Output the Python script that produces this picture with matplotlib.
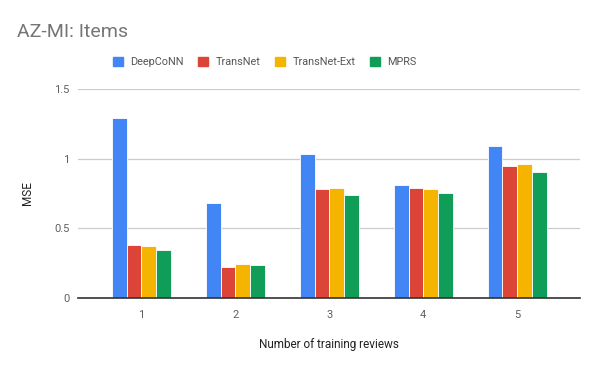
import matplotlib.pyplot as plt
import numpy as np
from matplotlib.patches import Patch
from matplotlib.ticker import FuncFormatter

plt.rcParams['font.family'] = ['Roboto', 'DejaVu Sans']

reviews = ['1', '2', '3', '4', '5']
models = ['DeepCoNN', 'TransNet', 'TransNet-Ext', 'MPRS']
deepconn = [1.29, 0.68, 1.03, 0.81, 1.09]
transnet = [0.38, 0.22, 0.78, 0.79, 0.95]
transnet_ext = [0.37, 0.245, 0.79, 0.785, 0.965]
mprs = [0.345, 0.237, 0.74, 0.75, 0.905]
colors = ['#4285f4', '#db4437', '#f4b400', '#0f9d58']

fig = plt.figure(figsize=(6, 3.71), dpi=100)
ax = fig.add_axes([0.13, 0.197, 0.837, 0.563])

x = np.arange(len(reviews))
w = 0.157
for i, (vals, c) in enumerate(zip([deepconn, transnet, transnet_ext, mprs], colors)):
    ax.bar(x + (i - 1.5) * w, vals, w, color=c, edgecolor='white', linewidth=0.6, zorder=3)

ax.set_xlim(-0.675, 4.67)
ax.set_ylim(0, 1.5)
ax.set_yticks([0, 0.5, 1, 1.5])
ax.yaxis.set_major_formatter(FuncFormatter(lambda v, p: f'{v:g}'))
ax.set_xticks(x)
ax.set_xticklabels(reviews)
ax.grid(axis='y', color='#cccccc', linewidth=0.9, zorder=0)
for s in ['top', 'right', 'left']:
    ax.spines[s].set_visible(False)
ax.spines['bottom'].set_color('#333333')
ax.spines['bottom'].set_linewidth(1.2)
ax.spines['bottom'].set_zorder(4)
ax.tick_params(length=0, labelsize=8, labelcolor='#5f5f5f')
ax.tick_params(axis='x', pad=9)
ax.tick_params(axis='y', pad=6)
ax.set_xlabel('Number of training reviews', fontsize=8.5, color='#222222', va='center')
ax.xaxis.set_label_coords(0.5, -0.225)
ax.set_ylabel('MSE', fontsize=8.5, color='#222222', va='center')
ax.yaxis.set_label_coords(-0.0996, 0.5)

fig.text(0.028, 0.915, 'AZ-MI: Items', fontsize=14, color='#757575', va='center')

handles = [Patch(facecolor=c, edgecolor=c) for c in colors]
fig.legend(handles, models, loc='center left', bbox_to_anchor=(0.188, 0.832), ncol=4,
           frameon=False, fontsize=7.8, handlelength=0.9, handleheight=0.9,
           handletextpad=0.7, columnspacing=1.35, labelcolor='#555555',
           borderpad=0, borderaxespad=0)

plt.savefig('out.png', dpi=100)
